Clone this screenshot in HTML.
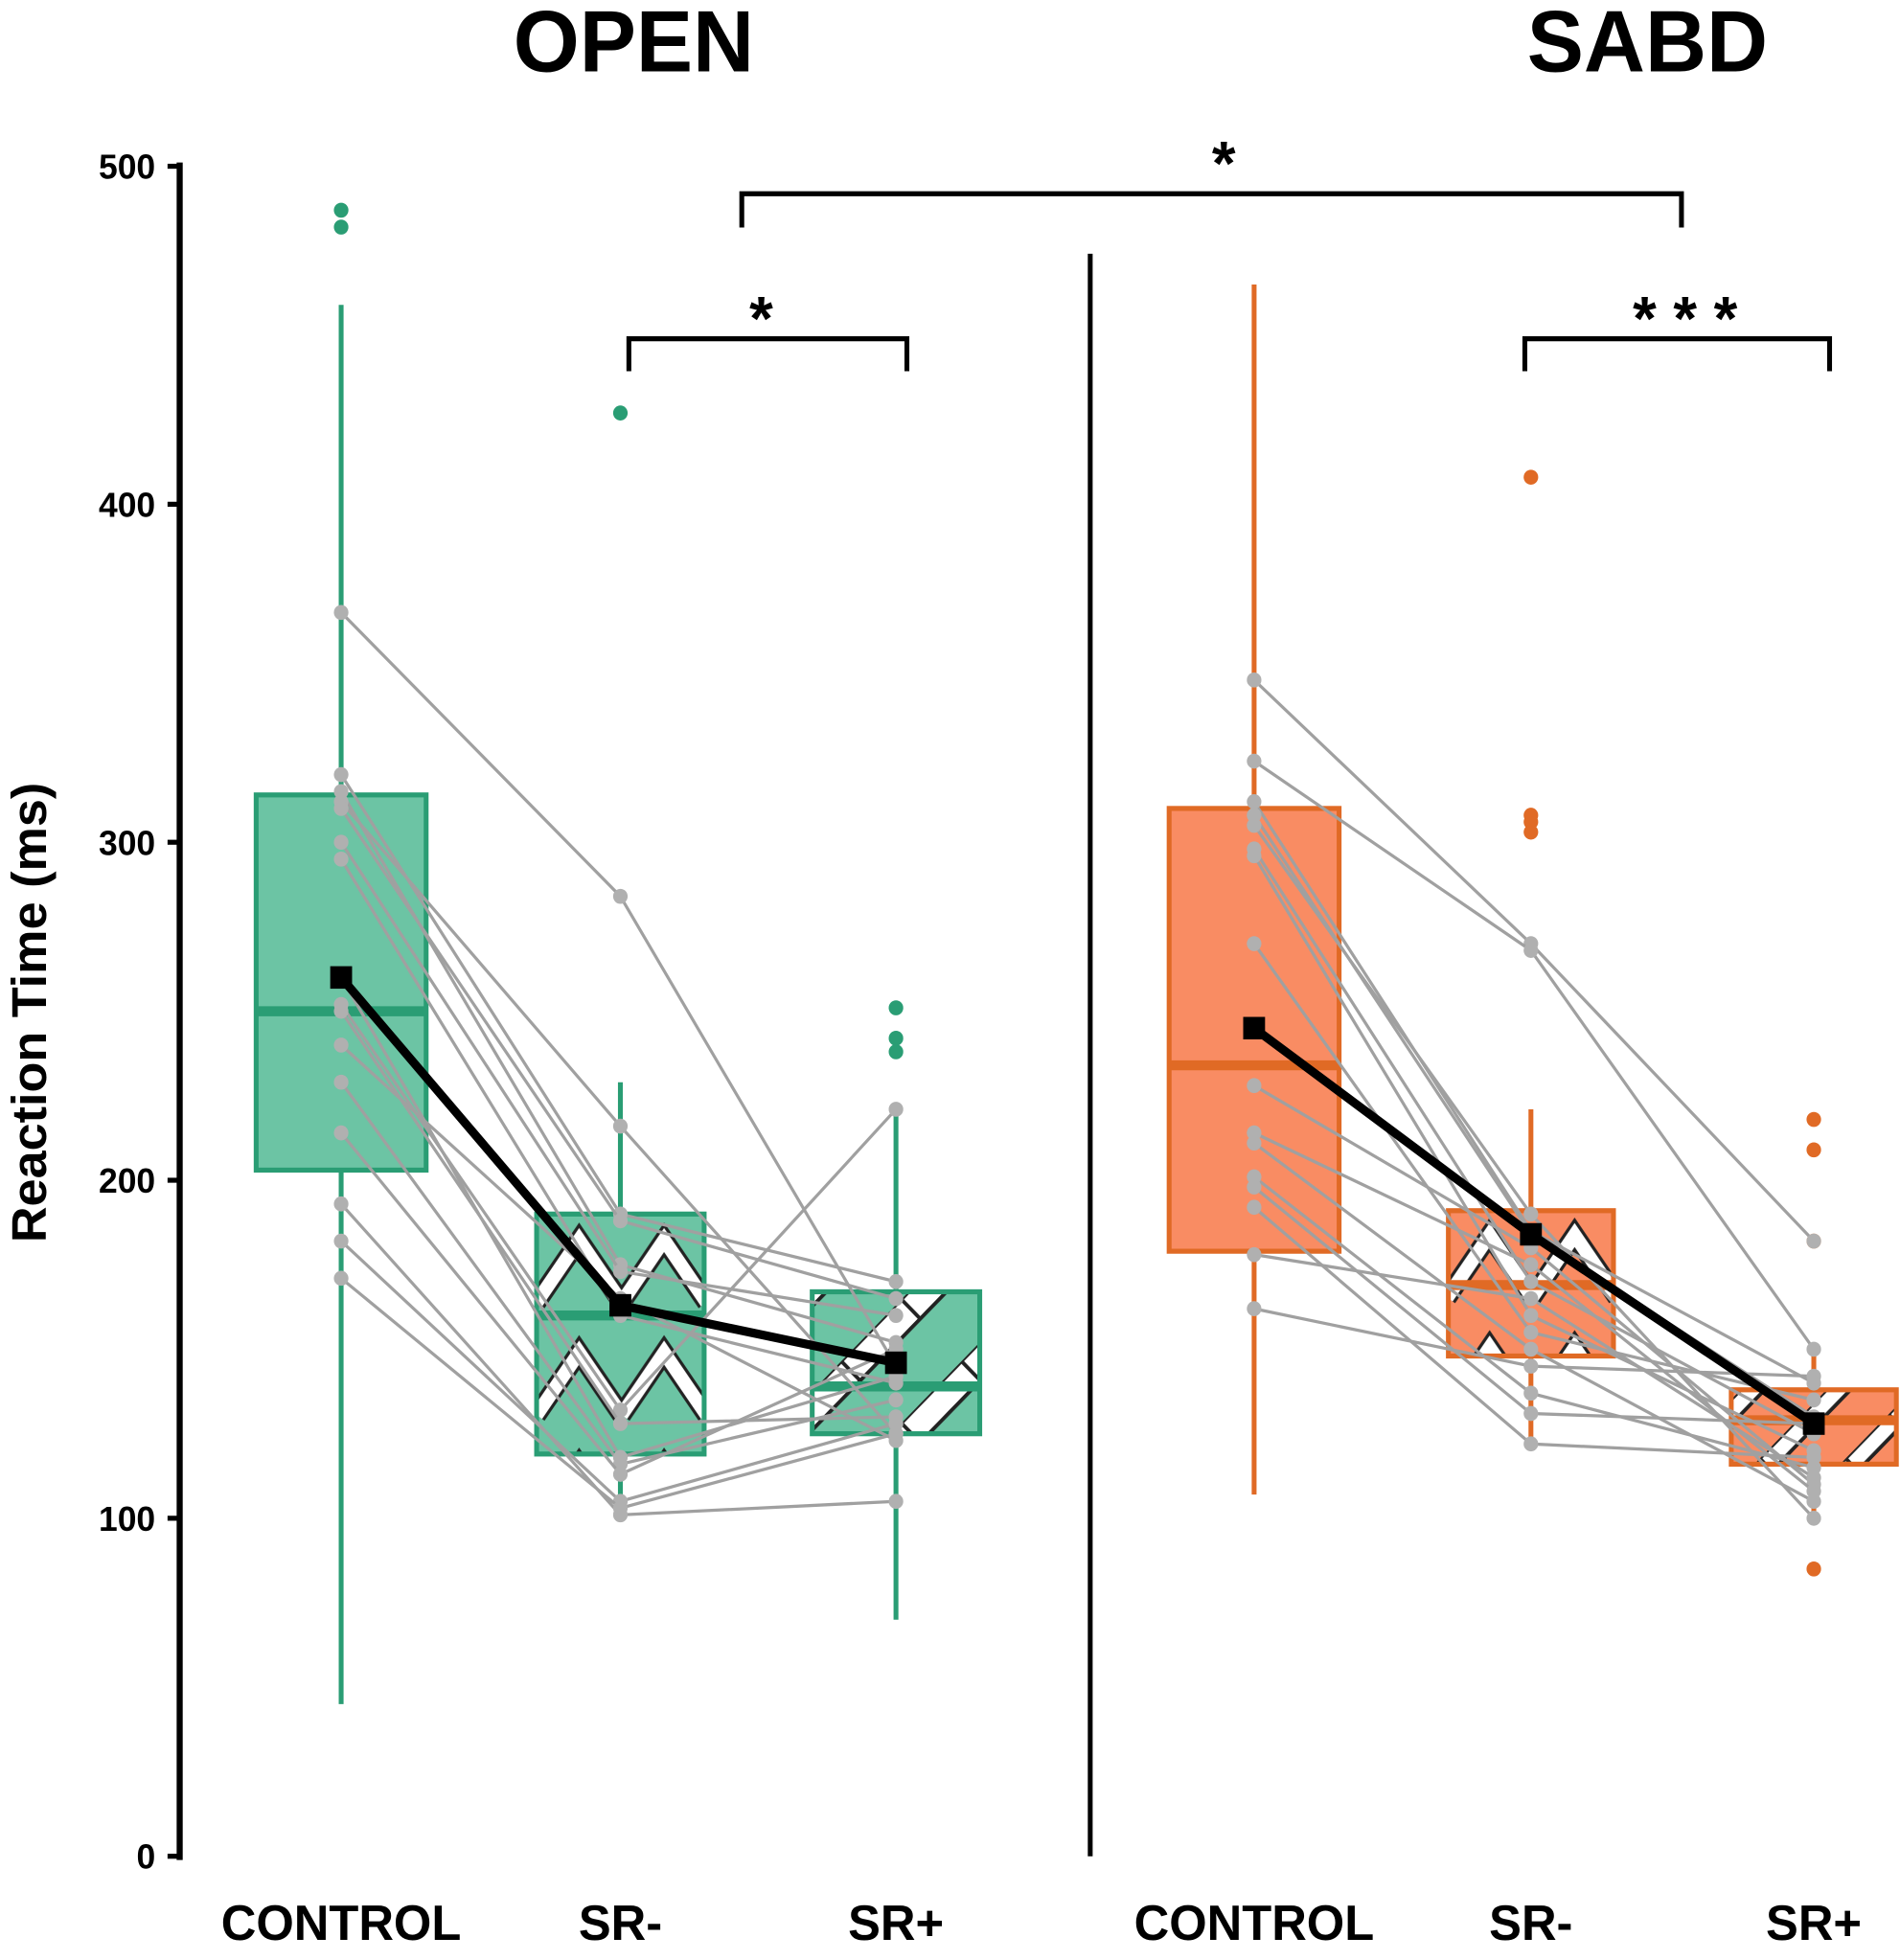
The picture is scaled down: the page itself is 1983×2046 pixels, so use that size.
<!DOCTYPE html>
<html><head><meta charset="utf-8"><style>
html,body{margin:0;padding:0;background:#fff;}
svg{display:block;font-family:"Liberation Sans",sans-serif;font-weight:bold;}
</style></head><body>
<svg id="chart" width="1983" height="2046" viewBox="0 0 1565 1568" preserveAspectRatio="none" xmlns="http://www.w3.org/2000/svg">
<defs>
<pattern id="zigG" width="70" height="90" patternUnits="userSpaceOnUse" x="442" y="972">
<rect width="70" height="90" fill="#6cc4a4"/>
<polyline points="0,70 35,20 70,70" fill="none" stroke="#222" stroke-width="16"/>
<polyline points="0,70 35,20 70,70" fill="none" stroke="#fff" stroke-width="11"/>
</pattern>
<pattern id="zigO" width="70" height="90" patternUnits="userSpaceOnUse" x="1192" y="968">
<rect width="70" height="90" fill="#f98c63"/>
<polyline points="0,70 35,20 70,70" fill="none" stroke="#222" stroke-width="16"/>
<polyline points="0,70 35,20 70,70" fill="none" stroke="#fff" stroke-width="11"/>
</pattern>
<pattern id="diagG" width="70" height="70" patternUnits="userSpaceOnUse" patternTransform="rotate(45)">
<rect width="70" height="70" fill="#6cc4a4"/>
<rect x="0" y="0" width="22" height="70" fill="#fff" stroke="#222" stroke-width="3"/>
</pattern>
<pattern id="diagO" width="50" height="50" patternUnits="userSpaceOnUse" patternTransform="rotate(45)">
<rect width="50" height="50" fill="#f98c63"/>
<rect x="0" y="0" width="14" height="50" fill="#fff" stroke="#222" stroke-width="3"/>
</pattern>
</defs>
<text x="522" y="57" font-size="70" text-anchor="middle">OPEN</text>
<text x="1357" y="57" font-size="70" text-anchor="middle">SABD</text>
<text transform="translate(38,810) rotate(-90)" font-size="40" text-anchor="middle">Reaction Time (ms)</text>
<line x1="148" y1="130" x2="148" y2="1488" stroke="#000" stroke-width="5"/>
<line x1="898" y1="203" x2="898" y2="1485" stroke="#000" stroke-width="4"/>
<g id="ticks"></g>
<g id="plot"></g>
<g fill="none" stroke="#000" stroke-width="4">
<polyline points="611,182 611,155 1385,155 1385,182"/>
<polyline points="518,297 518,271 747,271 747,297"/>
<polyline points="1256,297 1256,271 1507,271 1507,297"/>
</g>
<text x="1008" y="148" font-size="50" text-anchor="middle">*</text>
<text x="627" y="272" font-size="50" text-anchor="middle">*</text>
<text x="1388" y="272" font-size="50" text-anchor="middle">* * *</text>
</svg>
<script>
const yTicks = [0,100,200,300,400,500];
const xLabels = ["CONTROL","SR-","SR+","CONTROL","SR-","SR+"];
const xCenters = [281,511,738,1033,1261,1494];
const boxQ1 = [203,119,125,179,148,116];
const boxMed = [250,160,139,234,169,129];
const boxQ3 = [314,190,167,310,191,138];
const whiskLo = [45,100,70,107,122,100];
const whiskHi = [459,229,220,465,221,150];
const means = [260,163,146,245,184,128];
const outliers = [[487,482],[427],[251,242,238],[],[408,308,306,303],[218,209,182,85]];
const openCtrl = [368,320,315,312,310,295,252,250,240,229,214,193,182,171,300,260];
const openSRm  = [284,190,175,216,188,160,132,128,165,116,113,101,105,103,173,118];
const openSRp  = [145,170,152,125,165,140,221,130,123,135,150,105,128,125,160,142];
const sabdCtrl = [348,324,312,308,298,296,228,214,211,201,198,192,178,162,270,305];
const sabdSRm  = [270,268,185,184,170,160,180,175,150,137,131,122,165,145,155,190];
const sabdSRp  = [182,150,140,130,125,120,110,108,105,115,128,118,112,142,135,100];

const NS="http://www.w3.org/2000/svg";
function y(v){return 1485 - v*2.704;}
function mk(tag,attrs,parent){const e=document.createElementNS(NS,tag);for(const k in attrs)e.setAttribute(k,attrs[k]);parent.appendChild(e);return e;}
const ticks=document.getElementById('ticks'), plot=document.getElementById('plot');
yTicks.forEach(t=>{
  const l=mk('line',{x1:138,x2:148,y1:y(t),y2:y(t),stroke:'#000','stroke-width':4},ticks);
  
  
  const tx=mk('text',{x:128,y:y(t)+10,'font-size':28,'text-anchor':'end'},ticks);
  tx.textContent=t;
  
  
});
xLabels.forEach((s,i)=>{
  const tx=mk('text',{x:xCenters[i],y:1552,'font-size':40,'text-anchor':'middle'},ticks);
  tx.textContent=s;
  
  
});
const strokes=['#2a9d74','#2a9d74','#2a9d74','#e06a25','#e06a25','#e06a25'];
const fills=['#6cc4a4','url(#zigG)','url(#diagG)','#f98c63','url(#zigO)','url(#diagO)'];
const hw=[70,69,69,70,68,68];
for(let i=0;i<6;i++){
  const c=xCenters[i];
  const w=mk('line',{x1:c,x2:c,y1:y(whiskHi[i]),y2:y(whiskLo[i]),stroke:strokes[i],'stroke-width':4},plot);
  
  
  const b=mk('rect',{x:c-hw[i],width:hw[i]*2,y:y(boxQ3[i]),height:y(boxQ1[i])-y(boxQ3[i]),fill:fills[i],stroke:strokes[i],'stroke-width':4},plot);
  
  
  const m=mk('line',{x1:c-hw[i],x2:c+hw[i],y1:y(boxMed[i]),y2:y(boxMed[i]),stroke:strokes[i],'stroke-width':8},plot);
  
  
  outliers[i].forEach(v=>{
    const o=mk('circle',{cx:c,cy:y(v),r:6,fill:strokes[i]},plot);
    
    
  });
}
function subj(a,b,cc,off){
  for(let k=0;k<a.length;k++){
    const pl=mk('polyline',{points:`${xCenters[off]},${y(a[k])} ${xCenters[off+1]},${y(b[k])} ${xCenters[off+2]},${y(cc[k])}`,fill:'none',stroke:'#a0a0a0','stroke-width':2.5},plot);
    
    
    [a[k],b[k],cc[k]].forEach((v,j)=>{
      const p=mk('circle',{cx:xCenters[off+j],cy:y(v),r:6,fill:'#b0b0b0'},plot);
      
      
    });
  }
}
subj(openCtrl,openSRm,openSRp,0);
subj(sabdCtrl,sabdSRm,sabdSRp,3);
[0,3].forEach(off=>{
  const pl=mk('polyline',{points:[0,1,2].map(j=>`${xCenters[off+j]},${y(means[off+j])}`).join(' '),fill:'none',stroke:'#000','stroke-width':7},plot);
  
  
  [0,1,2].forEach(j=>{
    const s=mk('rect',{x:xCenters[off+j]-9,y:y(means[off+j])-9,width:18,height:18,fill:'#000'},plot);
    
    
  });
});
</script>
</body></html>
